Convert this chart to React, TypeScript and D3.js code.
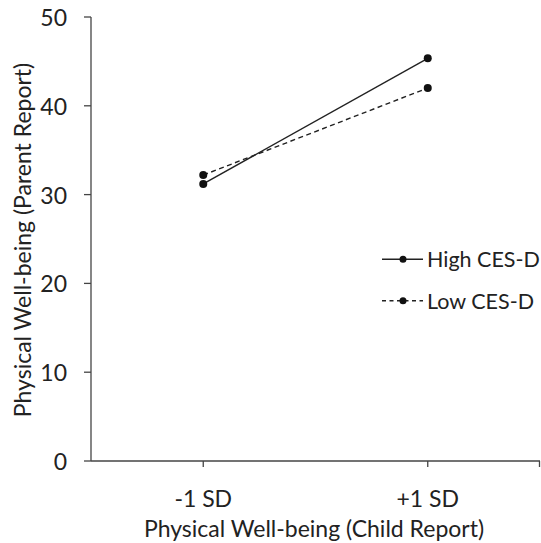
import React from "react";
import * as d3 from "d3";

const categories = ["-1 SD", "+1 SD"];
const highValues = [31.2, 45.35];
const lowValues = [32.2, 42.0];
const yTicks = [0, 10, 20, 30, 40, 50];
const seriesNames = ["High CES-D", "Low CES-D"];
const xTitle = "Physical Well-being (Child Report)";
const yTitle = "Physical Well-being (Parent Report)";

const W = 541;
const H = 543;
const left = 91;
const right = 540;
const top = 17;
const bottom = 461;
const FONT = "Lato, 'Open Sans', sans-serif";
const FS = 23;

export default function App() {
  const x = d3.scaleBand<string>().domain(categories).range([left, right]);
  const cx = (c: string) => (x(c) as number) + x.bandwidth() / 2;
  const y = d3.scaleLinear().domain([0, 50]).range([bottom, top]);
  const line = d3
    .line<number>()
    .x((_, i) => cx(categories[i]))
    .y((v) => y(v));
  const series = [
    { name: seriesNames[0], values: highValues, dash: undefined as string | undefined },
    { name: seriesNames[1], values: lowValues, dash: "5,3.5" },
  ];
  const axisColor = "#444";
  return (
    <svg width={W} height={H} style={{ position: "absolute", left: 0, top: 0, background: "#fff" }}>
      <rect width={W} height={H} fill="#fff" />
      {/* y axis */}
      <line x1={left} x2={left} y1={top} y2={bottom} stroke={axisColor} strokeWidth={1.3} />
      {yTicks.map((t) => (
        <g key={t}>
          <line x1={left - 7} x2={left} y1={y(t)} y2={y(t)} stroke={axisColor} strokeWidth={1.3} />
          <text x={67} y={y(t) + 9} textAnchor="end" fontFamily={FONT} fontSize={FS} fill="#222">
            {t}
          </text>
        </g>
      ))}
      {/* x axis */}
      <line x1={left} x2={right} y1={bottom} y2={bottom} stroke={axisColor} strokeWidth={1.3} />
      {categories.map((c) => (
        <g key={c}>
          <line x1={cx(c)} x2={cx(c)} y1={bottom} y2={bottom + 6} stroke={axisColor} strokeWidth={1.3} />
          <text x={cx(c)} y={507} textAnchor="middle" fontFamily={FONT} fontSize={FS} fill="#222">
            {c}
          </text>
        </g>
      ))}
      <line x1={right - 0.5} x2={right - 0.5} y1={bottom} y2={bottom + 6} stroke={axisColor} strokeWidth={1.3} />
      <text x={314} y={537} textAnchor="middle" fontFamily={FONT} fontSize={FS} fill="#222">
        {xTitle}
      </text>
      <text
        transform={`translate(31,240) rotate(-90)`}
        textAnchor="middle"
        fontFamily={FONT}
        fontSize={FS}
        fill="#222"
      >
        {yTitle}
      </text>
      {/* series */}
      {series.map((s) => (
        <g key={s.name}>
          <path d={line(s.values) as string} fill="none" stroke="#222" strokeWidth={1.4} strokeDasharray={s.dash} />
          {s.values.map((v, i) => (
            <circle key={i} cx={cx(categories[i])} cy={y(v)} r={4} fill="#111" />
          ))}
        </g>
      ))}
      {/* legend */}
      {series.map((s, i) => {
        const ly = 259.3 + i * 41.4;
        return (
          <g key={s.name}>
            <line x1={382} x2={423} y1={ly} y2={ly} stroke="#222" strokeWidth={1.4} strokeDasharray={s.dash ? "4,3.5" : undefined} />
            <circle cx={403} cy={ly} r={3.5} fill="#111" />
            <text x={427} y={ly + 8} fontFamily={FONT} fontSize={21.5} fill="#222">
              {s.name}
            </text>
          </g>
        );
      })}
    </svg>
  );
}
